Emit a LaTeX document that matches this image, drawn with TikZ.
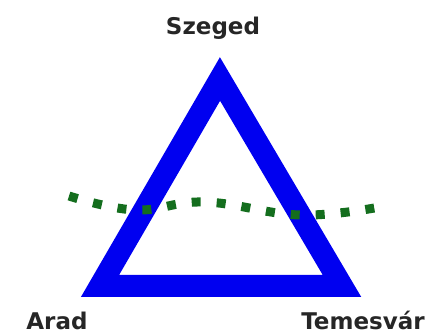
\documentclass[tikz,border=0pt]{standalone}
\usepackage{fontspec}
\setmainfont{DejaVu Sans}
\usepackage{xcolor}
\usepackage{tikz}
\usetikzlibrary{positioning, calc}
\definecolor{routeblue}{RGB}{0,0,240}
\definecolor{bordergreen}{RGB}{20,110,30}

\begin{document}
\begin{tikzpicture}[
    x=1pt, y=-1pt,
    city/.style={font=\fontsize{23}{23}\selectfont\bfseries, text=black!85, anchor=base, inner sep=0pt},
    route/.style={draw=routeblue, line width=22pt, line join=miter},
    border/.style={draw=bordergreen, line width=9pt, dash pattern=on 9pt off 16pt}
]
\useasboundingbox (0,0) rectangle (440,336);

\coordinate (top) at (220,79);
\coordinate (left) at (100,286);
\coordinate (right) at (342,286);

\node[city] (szeged) at (213,35) {Szeged};
\node[city] (arad) at (57,330) {Arad};
\node[city] (temesvar) at (363,330) {Temesvár};

\draw[route] (top) -- (left) -- (right) -- cycle;

% dotted border line
\draw[border] plot[smooth, tension=0.7] coordinates {(69,196) (135,210) (205,202) (300,215) (380,207)};

\end{tikzpicture}
\end{document}
